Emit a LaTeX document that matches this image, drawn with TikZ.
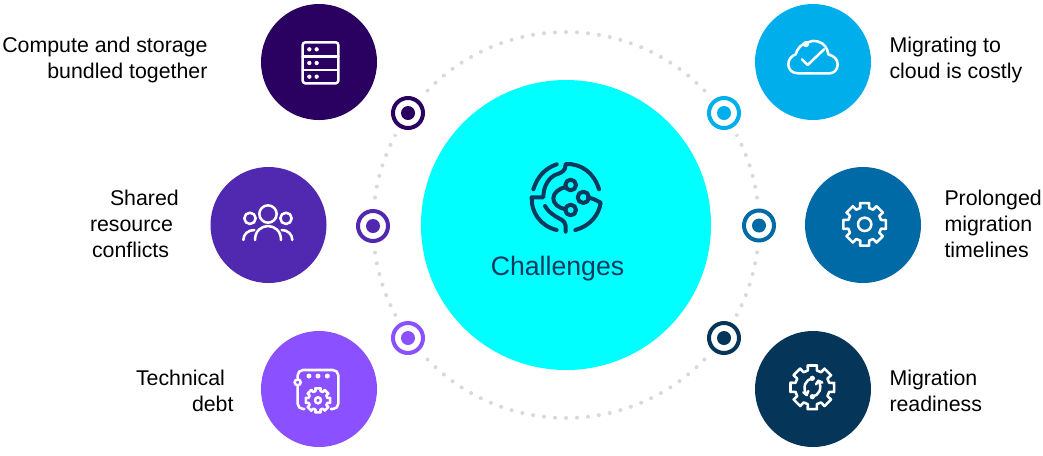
\documentclass[tikz,border=0pt]{standalone}
\usepackage{fontspec}
\setmainfont{Liberation Sans}
\definecolor{cA}{HTML}{2A0060}
\definecolor{cB}{HTML}{5029B0}
\definecolor{cC}{HTML}{8B50FF}
\definecolor{cD}{HTML}{00AEEB}
\definecolor{cE}{HTML}{006AA6}
\definecolor{cF}{HTML}{053558}
\definecolor{cMid}{HTML}{00FFFF}
\definecolor{cIcon}{HTML}{0B3A5E}
\definecolor{cDot}{HTML}{D9D9D9}
\tikzset{
  bubble/.style={circle,minimum size=87pt,inner sep=0pt,outer sep=0pt,fill=#1},
  halo/.style={circle,minimum size=37pt,inner sep=0pt,fill=white},
  ringnode/.style={circle,minimum size=22.5pt,inner sep=0pt,outer sep=0pt,draw=#1,line width=3pt},
  ringdot/.style={circle,minimum size=10.5pt,inner sep=0pt,outer sep=0pt,fill=#1},
  lab/.style={font=\fontsize{16}{19.5}\selectfont,inner sep=0pt,outer sep=0pt},
  rlab/.style={lab,anchor=east,align=right},
  llab/.style={lab,anchor=west,align=left},
  icon/.style={white,line width=1.9pt,line cap=round,line join=round},
  zoomed/.style={x=0.25pt,y=-0.25pt},
}
% gear at (cx,cy): outer radius, root radius
\newcommand{\geargly}[4]{%
  \begin{scope}[shift={(#1,#2)}]
    \draw[#4] (-11:#3) foreach \a in {0,45,...,315} {
      -- (\a-12:#3) -- (\a+12:#3) -- (\a+15:0.78*#3) -- (\a+30:0.78*#3)
    } -- cycle;
  \end{scope}}
\begin{document}
\begin{tikzpicture}[x=0.75pt,y=-0.75pt]
\useasboundingbox (0,0) rectangle (1043,455);
\fill[white] (0,0) rectangle (1043,455);
% dotted ring
\foreach \i in {0,...,109}
  \fill[cDot] (566,225) ++(\i*3.27273+8.18:193) circle[radius=2];
% main circle
\node[bubble=cMid,minimum size=217.5pt] (hub) at (566,225) {};
\node[font=\fontsize{20}{24}\selectfont,text=cIcon,inner sep=0pt] (hubtext) at (557.5,269) {Challenges};
% bubbles
\node[bubble=cA] (b1) at (319,62) {};
\node[bubble=cB] (b2) at (268.5,225) {};
\node[bubble=cC] (b3) at (319,389) {};
\node[bubble=cD] (b4) at (813,62) {};
\node[bubble=cE] (b5) at (863,225) {};
\node[bubble=cF] (b6) at (813,389) {};
% rings
\foreach \n/\x/\y/\c in {1/408/113/cA,2/373/226/cB,3/408/338/cC,4/724/113/cD,5/759/225.5/cE,6/724/338/cF}{
  \node[halo] (h\n) at (\x,\y) {};
  \node[ringnode=\c] (r\n) at (\x,\y) {};
  \node[ringdot=\c] (d\n) at (\x,\y) {};
}
% labels
\node[rlab] (t1) at (207.5,60) {Compute and storage\\bundled together};
\node[llab] (t2) at (90,223.5) {\hspace*{15pt}Shared\\resource\\\hspace*{1.5pt}conflicts};
\node[llab] (t3) at (136,390.5) {Technical\\\hspace*{42pt}debt};
\node[llab] (t4) at (889.5,59.5) {Migrating to\\cloud is costly};
\node[llab] (t5) at (944.5,223.5) {Prolonged\\migration\\timelines};
\node[llab] (t6) at (889.5,390.5) {Migration\\readiness};
% server icon
\begin{scope}[shift={(250,0)},zoomed]
  \draw[icon,rounded corners=2pt] (158,127) rectangle (265,250);
  \draw[icon] (158,170) -- (265,170) (158,210) -- (265,210);
  \foreach \xx in {178,200} \foreach \yy in {148,189,230}
    \fill[white] (\xx,\yy) circle[radius=6.5];
\end{scope}
% people icon
\begin{scope}[shift={(200,160)},zoomed]
  \draw[icon] (204,162) circle[radius=26];
  \draw[icon] (150,175) circle[radius=17];
  \draw[icon] (258,175) circle[radius=17];
  \draw[icon] (165,240) .. controls (165,212) and (185,198) .. (204,198) .. controls (223,198) and (243,212) .. (243,240);
  \draw[icon] (130,240) .. controls (130,222) and (145,210) .. (163,210);
  \draw[icon] (277,240) .. controls (277,222) and (262,210) .. (245,210);
\end{scope}
% window + gear icon
\begin{scope}[shift={(250,320)},zoomed]
  \draw[icon,rounded corners=4pt] (143,174) -- (143,150) -- (265,150) -- (265,267) -- (243,267);
  \draw[icon,rounded corners=4pt] (143,200) -- (143,267) -- (163,267);
  \draw[icon] (143,187) circle[radius=9];
  \foreach \xx in {177,204,232} \fill[white] (\xx,168) circle[radius=7.5];
  \geargly{204}{241}{37}{icon}
  \draw[icon] (204,241) circle[radius=9];
\end{scope}
% cloud icon
\begin{scope}[shift={(700,0)},zoomed]
  \draw[icon] (295,220) .. controls (275,220) and (265,208) .. (265,193)
    .. controls (265,178) and (275,167) .. (287,163)
    .. controls (292,145) and (305,130) .. (325,127)
    .. controls (335,122) and (345,122) .. (352,124)
    .. controls (372,128) and (383,145) .. (385,163)
    .. controls (402,168) and (413,178) .. (413,193)
    .. controls (413,210) and (402,220) .. (388,220) -- cycle;
  \fill[white] (318,132) circle[radius=9.5];
  \draw[icon] (306,178) -- (323,195) -- (372,148);
\end{scope}
% gear icon
\begin{scope}[shift={(735,165)},zoomed]
  \geargly{389}{178}{65}{icon}
  \draw[icon] (389,178) circle[radius=20];
\end{scope}
% gear with arrows icon
\begin{scope}[shift={(700,315)},zoomed]
  \geargly{337}{217}{67}{icon}
  \fill[white] (337,190) circle[radius=8];
  \fill[white] (337,245) circle[radius=8];
  \draw[icon] (337,190) .. controls (318,193) and (305,215) .. (320,240);
  \draw[icon] (310,232) -- (320,240) -- (325,228);
  \draw[icon] (337,245) .. controls (356,242) and (369,220) .. (355,197);
  \draw[icon] (348,208) -- (355,197) -- (367,203);
\end{scope}
% central icon
\begin{scope}[shift={(500,140)},zoomed,line width=3pt,line cap=round,line join=round]
  \draw[cIcon] (100,148) .. controls (112,110) and (135,85) .. (170,73);
  \draw[cIcon] (195,85) -- (197,72) .. controls (245,70) and (283,100) .. (297,148);
  \draw[cIcon] (195,85) .. controls (190,97) and (178,100) .. (165,105)
     .. controls (145,115) and (130,140) .. (130,172) -- (95,172)
     .. controls (93,215) and (120,258) .. (170,270);
  \draw[cIcon] (226,270) .. controls (270,258) and (297,225) .. (302,188)
     -- (283,178) -- (264,172);
  \draw[cIcon] (250,172) circle[radius=17];
  \draw[cIcon] (212,135) circle[radius=16];
  \draw[cIcon] (212,210) circle[radius=16];
  \draw[cIcon] (197,142) .. controls (175,145) and (160,160) .. (160,175)
     .. controls (160,190) and (175,205) .. (197,207);
  \draw[cIcon] (197,275) -- (197,258) .. controls (195,240) and (180,238) .. (165,228)
     .. controls (150,218) and (142,210) .. (135,198);
\end{scope}
\end{tikzpicture}
\end{document}
